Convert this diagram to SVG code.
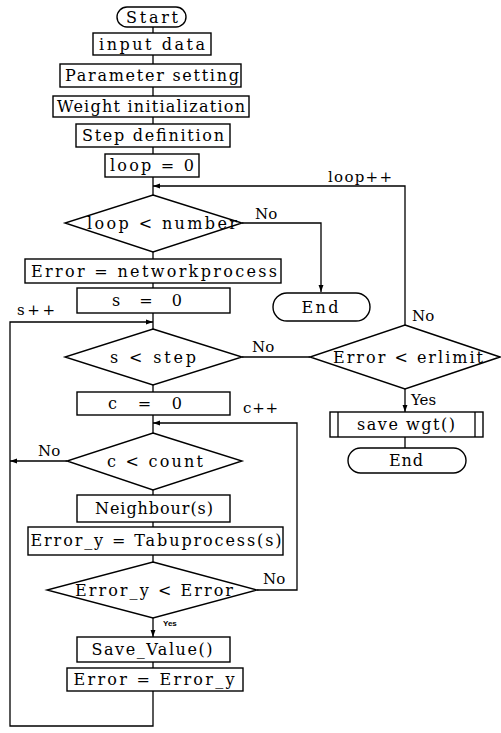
<svg xmlns="http://www.w3.org/2000/svg" width="501" height="733" viewBox="0 0 501 733">
<style>
.s{fill:#fff;stroke:#000;stroke-width:1.4}
.t{font-family:"DejaVu Serif","Liberation Serif",serif;font-size:16px;fill:#000;text-anchor:middle}
.l{font-family:"DejaVu Serif","Liberation Serif",serif;font-size:15px;fill:#000}
.c{fill:none;stroke:#000;stroke-width:1.3}
</style>
<defs>
<marker id="a" viewBox="0 0 10 10" refX="10" refY="5" markerWidth="7" markerHeight="7" markerUnits="userSpaceOnUse" orient="auto"><path d="M0,1.5 L10,5 L0,8.5 Z" fill="#000"/></marker>
</defs>
<rect width="501" height="733" fill="#fff"/>
<g id="connectors">
<path class="c" d="M153,27 V33 M153,55 V64 M153,87 V96 M153,117 V124 M153,147 V154 M153,177 V195 M153,252 V259 M153,283 V288 M153,313 V329 M153,385 V392 M153,415 V433 M153,490 V495 M153,522 V527 M153,555 V562 M153,662 V668 M405,437 V448"/>
<path class="c" d="M405,325 V186 H153" marker-end="url(#a)"/>
<path class="c" d="M242,223 H321 V292" marker-end="url(#a)"/>
<path class="c" d="M153,691 V726 H10 V322 H153" marker-end="url(#a)"/>
<path class="c" d="M242,357 H310"/>
<path class="c" d="M405,389 V412" marker-end="url(#a)"/>
<path class="c" d="M257,590 H297 V423 H153" marker-end="url(#a)"/>
<path class="c" d="M67,461 H10" marker-end="url(#a)"/>
<path class="c" d="M153,618 V637" marker-end="url(#a)"/>
<text class="l" x="328" y="182" textLength="64" lengthAdjust="spacing">loop++</text>
<text class="l" x="255" y="219">No</text>
<text class="l" x="17" y="315" textLength="38" lengthAdjust="spacing">s++</text>
<text class="l" x="252" y="352">No</text>
<text class="l" x="412" y="321">No</text>
<text class="l" x="411" y="405">Yes</text>
<text class="l" x="243" y="413" textLength="35" lengthAdjust="spacing">c++</text>
<text class="l" x="38" y="456">No</text>
<text class="l" x="263" y="584">No</text>
<text x="163" y="626" style="font-family:'Liberation Sans',sans-serif;font-size:8px;font-weight:bold">Yes</text>
</g>
<g id="start"><rect class="s" x="117" y="7" width="69" height="20" rx="10"/><text class="t" x="152" y="23" textLength="52" lengthAdjust="spacing">Start</text></g>
<g id="input"><rect class="s" x="93" y="33" width="118" height="22"/><text class="t" x="152" y="50" textLength="106" lengthAdjust="spacing">input data</text></g>
<g id="param"><rect class="s" x="60" y="64" width="181" height="23"/><text class="t" x="152" y="81" textLength="174" lengthAdjust="spacing">Parameter setting</text></g>
<g id="weight"><rect class="s" x="53" y="96" width="196" height="21"/><text class="t" x="151" y="112" textLength="188" lengthAdjust="spacing">Weight initialization</text></g>
<g id="stepdef"><rect class="s" x="76" y="124" width="154" height="23"/><text class="t" x="153" y="141" textLength="142" lengthAdjust="spacing">Step definition</text></g>
<g id="loop0"><rect class="s" x="105" y="154" width="94" height="23"/><text class="t" x="152" y="171" textLength="84" lengthAdjust="spacing">loop = 0</text></g>
<g id="loopcond"><polygon class="s" points="153,195 242,223 153,252 65,223"/><text class="t" x="162" y="229" textLength="150" lengthAdjust="spacing">loop &lt; number</text></g>
<g id="end1"><rect class="s" x="273" y="293" width="97" height="28" rx="14"/><text class="t" x="320" y="313" textLength="37" lengthAdjust="spacing">End</text></g>
<g id="netproc"><rect class="s" x="25" y="259" width="256" height="24"/><text class="t" x="154" y="277" textLength="246" lengthAdjust="spacing">Error = networkprocess</text></g>
<g id="s0"><rect class="s" x="77" y="288" width="153" height="25"/><text class="t" x="147" y="306" textLength="70" lengthAdjust="spacing">s = 0</text></g>
<g id="scond"><polygon class="s" points="153,329 242,357 153,385 65,357"/><text class="t" x="153" y="363" textLength="86" lengthAdjust="spacing">s &lt; step</text></g>
<g id="errcond"><polygon class="s" points="405,325 500,357 405,389 310,357"/><text class="t" x="408" y="363" textLength="150" lengthAdjust="spacing">Error &lt; erlimit</text></g>
<g id="savewgt"><rect class="s" x="330" y="412" width="153" height="25"/><path class="c" d="M338,412 V437 M475,412 V437"/><text class="t" x="406" y="430" textLength="98" lengthAdjust="spacing">save wgt()</text></g>
<g id="end2"><rect class="s" x="348" y="448" width="118" height="25" rx="12.5"/><text class="t" x="406" y="466" textLength="34" lengthAdjust="spacing">End</text></g>
<g id="c0"><rect class="s" x="77" y="392" width="153" height="23"/><text class="t" x="145" y="409" textLength="74" lengthAdjust="spacing">c = 0</text></g>
<g id="ccond"><polygon class="s" points="153,433 242,461 153,490 67,461"/><text class="t" x="155" y="467" textLength="96" lengthAdjust="spacing">c &lt; count</text></g>
<g id="neigh"><rect class="s" x="77" y="495" width="153" height="27"/><text class="t" x="154" y="514" textLength="118" lengthAdjust="spacing">Neighbour(s)</text></g>
<g id="tabu"><rect class="s" x="28" y="527" width="255" height="28"/><text class="t" x="156" y="546" textLength="251" lengthAdjust="spacing">Error_y = Tabuprocess(s)</text></g>
<g id="ycond"><polygon class="s" points="153,562 257,590 153,618 47,590"/><text class="t" x="154" y="596" textLength="158" lengthAdjust="spacing">Error_y &lt; Error</text></g>
<g id="saveval"><rect class="s" x="77" y="637" width="153" height="25"/><text class="t" x="152" y="655" textLength="121" lengthAdjust="spacing">Save_Value()</text></g>
<g id="erry"><rect class="s" x="67" y="668" width="176" height="23"/><text class="t" x="154" y="685" textLength="161" lengthAdjust="spacing">Error = Error_y</text></g>
</svg>
